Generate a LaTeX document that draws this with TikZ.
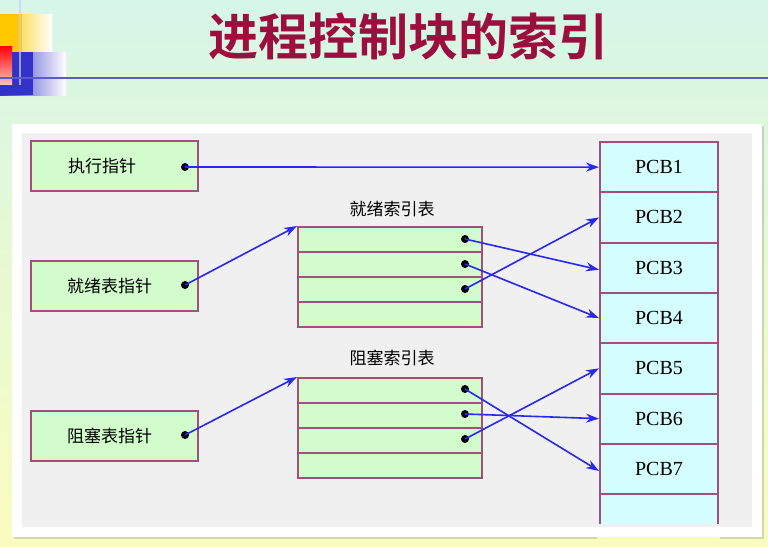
\documentclass[tikz,border=0pt]{standalone}
\usepackage{fontspec}
\newfontfamily\cjk{Noto Sans CJK SC}
\newfontfamily\cjkb{Noto Sans CJK SC Bold}
\setmainfont{Liberation Serif}
\usetikzlibrary{arrows.meta,shadows}
\definecolor{bordr}{HTML}{A0507A}
\definecolor{lgreen}{HTML}{D2FCCC}
\definecolor{lcyan}{HTML}{D4FEFE}
\definecolor{titlec}{HTML}{9B0E3E}
\definecolor{bgtop}{RGB}{214,246,232}
\definecolor{bgbot}{RGB}{250,252,190}
\definecolor{decy}{RGB}{255,200,0}
\definecolor{decb}{RGB}{50,50,200}
\definecolor{decr}{RGB}{255,190,190}
\definecolor{linec}{RGB}{90,90,200}
\definecolor{panel}{RGB}{240,240,240}
\definecolor{arrc}{RGB}{40,40,240}
\tikzset{
 box/.style={draw=bordr,line width=2pt,fill=lgreen},
 pcb/.style={draw=bordr,line width=2pt,fill=lcyan},
 lab/.style={font=\cjk\fontsize{17}{17}\selectfont},
 dot/.style={circle,fill=black,inner sep=0pt,minimum size=8pt},
 arr/.style={draw=arrc,line width=1.6pt,-{Stealth[length=13pt,width=9pt]}}
}
\begin{document}
\begin{tikzpicture}[x=1pt,y=-1pt]
\useasboundingbox (0,0) rectangle (768,546);
\shade[top color=bgtop,bottom color=bgbot] (0,0) rectangle (768,546);
% decoration
\shade[left color=decy,right color=white] (0,14) rectangle (52,52);
\fill[decy] (0,14) rectangle (22,52);
\shade[left color=decb,right color=white] (0,52) rectangle (66,95);
\fill[decb] (0,52) rectangle (33,95);
\shade[top color=red,bottom color=decr] (0,46) rectangle (12,84);
\draw[white!80!blue,line width=2pt,opacity=.7] (20,0) -- (20,85);
\draw[linec,line width=1.5pt] (0,78) -- (768,78);
\node[font=\cjkb\fontsize{50}{50}\selectfont,text=titlec] (title) at (408,36) {进程控制块的索引};
% panel
\fill[white,drop shadow={shadow xshift=2pt,shadow yshift=-2pt,opacity=.3}] (12,124) rectangle (762,537);
\fill[panel] (22,133) rectangle (752,527);
% left boxes
\node[box,lab,minimum width=167pt,minimum height=50pt,anchor=north west] (exe) at (30,140) {\hspace*{-25pt}执行指针};
\node[box,lab,minimum width=167pt,minimum height=50pt,anchor=north west] (rdy) at (30,260) {\hspace*{-10pt}就绪表指针};
\node[box,lab,minimum width=167pt,minimum height=50pt,anchor=north west] (blk) at (30,410) {\hspace*{-10pt}阻塞表指针};
\node[dot] (de) at (185,167) {};
\node[dot] (dr) at (185,285) {};
\node[dot] (db) at (185,435) {};
% index tables
\foreach \i in {0,...,3}{
 \node[box,minimum width=184pt,minimum height=25pt,anchor=north west] (r\i) at (297,226+25*\i) {};
 \node[box,minimum width=184pt,minimum height=25pt,anchor=north west] (b\i) at (297,377+25*\i) {};
}
\node[lab] (rl) at (392,209) {就绪索引表};
\node[lab] (bl) at (392,358) {阻塞索引表};
\foreach \i in {0,1,2}{
 \node[dot] (rd\i) at (465,239+25*\i) {};
 \node[dot] (bd\i) at (465,389+25*\i) {};
}
% PCB column
\foreach \i/\t in {1/PCB1,2/PCB2,3/PCB3,4/PCB4,5/PCB5,6/PCB6,7/PCB7,8/}{
 \pgfmathsetmacro\yy{141+50.3*(\i-1)}
 \node[pcb,minimum width=118pt,minimum height=50.3pt,anchor=north west,font=\fontsize{20}{20}\selectfont] (p\i) at (599,\yy) {\t};
}
\fill[panel] (597,524) rectangle (720,527);
\fill[white] (597,527) rectangle (720,537);
\fill[bgbot] (597,537) rectangle (720,546);
% connectors
\draw[arr] (de.center) -- (p1.west);
\draw[arr] (dr.center) -- (r0.north west);
\draw[arr] (db.center) -- (b0.north west);
\draw[arr] (rd0.center) -- ([yshift=-2pt]p3.west);
\draw[arr] (rd1.center) -- (p4.west);
\draw[arr] (rd2.center) -- (p2.west);
\draw[arr] (bd0.center) -- ([yshift=-2pt]p7.west);
\draw[arr] (bd1.center) -- (p6.west);
\draw[arr] (bd2.center) -- (p5.west);
\end{tikzpicture}
\end{document}
